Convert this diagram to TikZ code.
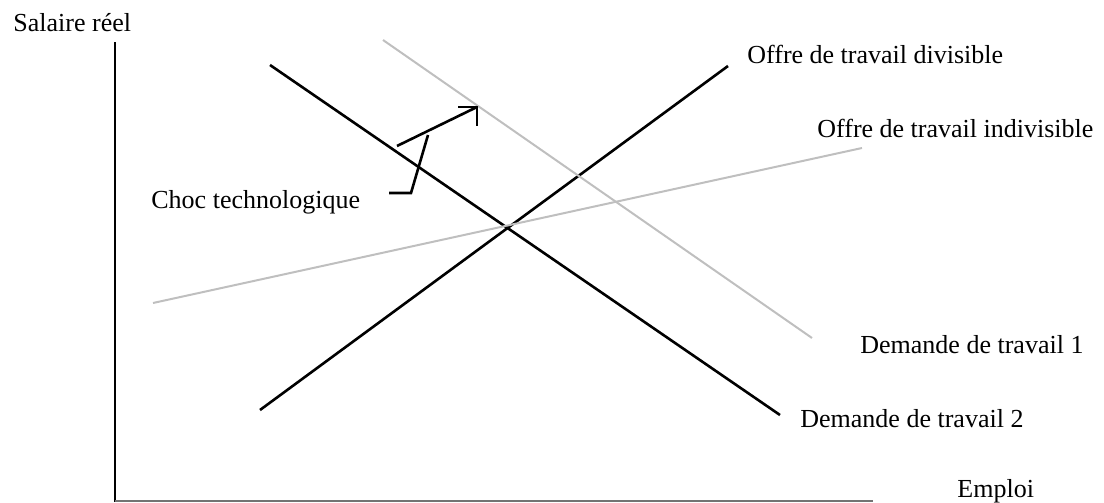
\documentclass[tikz,border=0pt]{standalone}
\usepackage{fontspec}
\setmainfont{Liberation Serif}
\begin{document}
\begin{tikzpicture}[x=0.5pt,y=-0.5pt,
  lbl/.style={anchor=base west,inner sep=0pt,font=\fontsize{13}{15}\selectfont},
  blk/.style={draw=black,line width=1.3pt},
  gry/.style={draw=black!25,line width=1pt},
  axv/.style={draw=black,line width=1.4pt},
  axh/.style={draw=black!55,line width=1pt}]
\useasboundingbox (0,0) rectangle (1104,503);
% axes
\coordinate (O) at (115,501);
\coordinate (Ytop) at (115,42);
\coordinate (Xend) at (873,501);
\draw[axv] (Ytop) -- (115,502);
\draw[axh] (O) -- (Xend);
% curves
\coordinate (d2a) at (270,65);  \coordinate (d2b) at (780,415);
\coordinate (sda) at (260,410); \coordinate (sdb) at (728,66);
\coordinate (d1a) at (383,40);  \coordinate (d1b) at (812,338);
\coordinate (sia) at (153,303); \coordinate (sib) at (862,148);
\draw[blk] (d2a) -- (d2b);
\draw[blk] (sda) -- (sdb);
\draw[gry] (d1a) -- (d1b);
\draw[gry] (sia) -- (sib);
% shift arrow
\coordinate (as) at (397,146);
\coordinate (ae) at (477,107);
\coordinate (ah1) at (458,107);
\coordinate (ah2) at (477,126);
\draw[blk] (as) -- (ae);
\draw[blk,line join=miter] (ah1) -- (ae) -- (ah2);
% leader
\coordinate (l1) at (389,193);
\coordinate (l2) at (411,193);
\coordinate (l3) at (428,135);
\draw[blk] (l1) -- (l2) -- (l3);
% labels
\node[lbl] (ylab) at (13,32) {Salaire réel};
\node[lbl] (xlab) at (957,497) {Emploi};
\node[lbl] (sdlab) at (747,63) {Offre de travail divisible};
\node[lbl] (silab) at (817,137) {Offre de travail indivisible};
\node[lbl] (d1lab) at (860,353) {Demande de travail 1};
\node[lbl] (d2lab) at (800,427) {Demande de travail 2};
\node[lbl] (choc) at (151,208) {Choc technologique};
\end{tikzpicture}
\end{document}
